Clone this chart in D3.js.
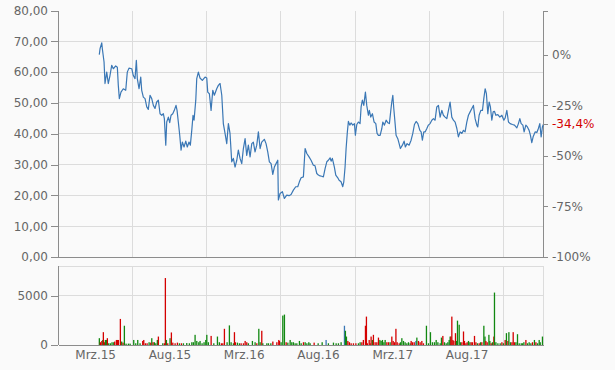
<!DOCTYPE html>
<html><head><meta charset="utf-8">
<script src="https://cdn.jsdelivr.net/npm/d3@7"></script>
<style>
html,body{margin:0;padding:0;background:#fafafa;}
svg{display:block;font-family:"DejaVu Sans",Verdana,sans-serif;}
</style></head>
<body><svg id="c" width="615" height="370"></svg>
<script>
// ---- data ----
const xLabels = ["Mrz.15","Aug.15","Mrz.16","Aug.16","Mrz.17","Aug.17"];
const priceTicks = [0,10,20,30,40,50,60,70,80];
const pctTicks = [0,-0.25,-0.5,-0.75,-1];
const volTicks = [0,5000];
const basePrice = 65.7;

const priceT = [0.556,0.566,0.589,0.597,0.620,0.633,0.656,0.677,0.700,0.723,0.745,0.777,0.799,0.812,0.826,0.848,0.879,0.912,0.933,0.956,0.993,1.014,1.037,1.055,1.068,1.091,1.114,1.127,1.149,1.172,1.195,1.216,1.239,1.262,1.284,1.306,1.329,1.351,1.374,1.397,1.418,1.432,1.451,1.464,1.486,1.504,1.522,1.545,1.566,1.589,1.603,1.620,1.639,1.657,1.674,1.697,1.720,1.741,1.764,1.782,1.801,1.818,1.832,1.855,1.868,1.890,1.912,1.943,1.980,2.003,2.016,2.038,2.061,2.084,2.105,2.137,2.159,2.182,2.205,2.226,2.249,2.272,2.294,2.316,2.339,2.361,2.384,2.407,2.428,2.451,2.474,2.496,2.519,2.541,2.563,2.586,2.609,2.630,2.653,2.676,2.698,2.721,2.743,2.778,2.801,2.824,2.846,2.869,2.892,2.913,2.936,2.959,2.967,2.990,3.021,3.048,3.080,3.111,3.138,3.169,3.201,3.228,3.250,3.273,3.304,3.327,3.350,3.380,3.407,3.438,3.461,3.484,3.506,3.529,3.551,3.573,3.596,3.619,3.640,3.663,3.677,3.694,3.721,3.740,3.767,3.785,3.811,3.834,3.848,3.865,3.879,3.896,3.910,3.929,3.946,3.969,3.991,4.004,4.023,4.044,4.067,4.081,4.098,4.117,4.139,4.157,4.179,4.192,4.211,4.233,4.256,4.279,4.296,4.314,4.337,4.360,4.373,4.395,4.418,4.440,4.462,4.481,4.494,4.508,4.521,4.539,4.552,4.575,4.593,4.610,4.637,4.660,4.677,4.700,4.727,4.754,4.777,4.799,4.822,4.845,4.872,4.889,4.906,4.925,4.943,4.966,4.987,5.010,5.033,5.055,5.077,5.100,5.122,5.145,5.168,5.189,5.212,5.235,5.257,5.279,5.302,5.324,5.347,5.370,5.391,5.414,5.437,5.459,5.481,5.504,5.526,5.549,5.572,5.593,5.616,5.639,5.652,5.670,5.693,5.715,5.733,5.751,5.768,5.787,5.805,5.822,5.841,5.859,5.876,5.895,5.922,5.949,5.976,6.003,6.020,6.043,6.065,6.088,6.119,6.146,6.178,6.199,6.218,6.236,6.259,6.276,6.299,6.320,6.343,6.361,6.379,6.397,6.424,6.447,6.468,6.487,6.505,6.522,6.536];
const priceV = [65.7,67.6,69.5,67.6,63.3,56.3,60.0,56.3,58.9,62.2,61.1,62.0,61.6,55.7,51.4,53.5,54.6,54.1,60.0,61.3,61.1,58.9,57.9,63.8,57.9,54.6,58.4,54.1,51.9,51.4,48.7,47.9,52.5,51.4,49.2,48.2,50.3,50.9,46.5,46.0,46.5,44.9,36.3,43.8,45.4,43.6,46.0,46.5,47.6,49.2,47.6,43.8,39.5,34.7,37.3,35.7,37.6,35.7,37.3,36.3,41.1,46.0,44.4,50.9,57.9,60.0,58.1,57.3,58.4,58.1,53.5,53.0,47.6,54.1,52.5,54.6,55.7,56.3,52.5,43.3,40.1,36.8,43.3,40.1,30.9,32.0,29.2,31.4,34.7,32.0,30.3,35.2,38.4,33.0,36.3,32.5,36.8,37.3,34.1,36.3,40.6,35.2,37.3,38.2,36.8,34.1,30.9,30.3,26.8,29.2,30.3,31.4,18.5,20.6,21.2,19.0,20.1,19.9,20.3,21.7,22.8,22.8,24.4,25.7,26.0,35.2,33.6,32.5,31.4,29.8,29.6,27.1,26.6,26.3,26.2,26.0,28.7,30.9,31.4,32.2,31.1,32.0,29.2,26.6,25.7,24.9,24.4,22.8,24.4,29.2,35.2,40.6,44.0,42.8,43.5,42.8,43.3,39.5,43.0,43.8,43.3,48.7,50.9,49.2,53.5,49.2,46.0,47.6,45.4,46.5,43.8,43.3,40.1,39.5,39.5,41.7,43.8,42.8,44.4,43.6,43.3,47.6,50.3,52.5,48.2,43.3,39.5,38.4,36.8,35.2,36.3,37.6,35.7,36.8,36.3,37.9,40.1,43.0,44.0,43.3,41.1,40.6,37.9,40.6,40.6,41.7,42.8,43.3,44.4,44.9,44.4,48.7,49.2,45.4,47.6,46.0,45.4,44.9,47.6,50.3,45.4,44.4,43.8,41.7,39.0,40.6,40.1,41.1,40.6,43.8,46.0,47.1,48.2,49.2,44.9,42.8,42.2,46.0,47.6,47.6,51.4,54.6,53.0,46.5,50.3,48.7,44.4,47.1,47.3,46.0,46.2,45.4,46.0,44.4,45.1,47.6,43.8,43.3,43.0,42.8,41.9,43.3,44.9,43.3,42.8,40.6,42.8,42.2,41.1,39.5,37.1,39.0,40.6,40.4,41.7,43.3,39.0,42.2,43.1];

const volT = [0.556,0.570,0.589,0.602,0.610,0.624,0.637,0.651,0.664,0.682,0.705,0.727,0.750,0.763,0.786,0.799,0.812,0.839,0.857,0.875,0.893,0.916,0.947,0.970,1.019,1.046,1.073,1.104,1.140,1.154,1.176,1.199,1.226,1.248,1.262,1.279,1.297,1.316,1.337,1.351,1.410,1.432,1.445,1.459,1.477,1.508,1.526,1.545,1.576,1.607,1.634,1.661,1.688,1.733,1.768,1.801,1.822,1.845,1.868,1.895,1.912,1.939,1.966,1.989,2.003,2.024,2.061,2.097,2.146,2.172,2.199,2.218,2.240,2.276,2.307,2.330,2.361,2.375,2.388,2.415,2.442,2.465,2.496,2.519,2.541,2.563,2.617,2.653,2.676,2.703,2.721,2.743,2.757,2.811,2.833,2.865,2.892,2.946,2.972,2.981,3.003,3.026,3.048,3.071,3.094,3.125,3.147,3.169,3.192,3.215,3.250,3.273,3.304,3.327,3.350,3.376,3.394,3.448,3.502,3.556,3.609,3.640,3.708,3.744,3.775,3.811,3.856,3.869,3.883,3.902,3.923,3.946,3.977,4.010,4.044,4.067,4.090,4.111,4.139,4.152,4.165,4.189,4.202,4.215,4.233,4.246,4.269,4.292,4.314,4.333,4.350,4.368,4.387,4.404,4.427,4.449,4.471,4.494,4.512,4.530,4.549,4.566,4.593,4.610,4.629,4.651,4.673,4.696,4.718,4.741,4.754,4.772,4.795,4.818,4.831,4.853,4.875,4.898,4.920,4.960,4.987,5.014,5.041,5.068,5.091,5.114,5.145,5.162,5.181,5.203,5.226,5.248,5.266,5.279,5.289,5.302,5.316,5.329,5.351,5.364,5.378,5.401,5.418,5.437,5.459,5.472,5.491,5.508,5.526,5.545,5.562,5.580,5.607,5.626,5.647,5.670,5.688,5.706,5.733,5.748,5.760,5.778,5.801,5.814,5.832,5.849,5.868,5.876,5.895,5.922,5.953,5.976,5.997,6.020,6.037,6.057,6.070,6.091,6.111,6.128,6.146,6.165,6.186,6.209,6.236,6.253,6.272,6.299,6.320,6.343,6.366,6.388,6.414,6.434,6.456,6.478,6.492,6.522];
const volV = [690,280,410,510,1300,280,510,510,690,175,175,280,280,350,510,510,510,2640,350,240,1950,140,140,140,510,175,510,175,410,510,175,175,280,240,690,280,280,175,510,855,175,175,6780,510,175,690,1270,240,175,240,175,175,175,200,175,280,280,1030,410,280,410,175,280,510,1030,280,920,175,855,280,175,175,1640,280,1985,280,175,1300,280,240,175,175,175,410,280,175,410,280,175,1640,280,1440,175,175,175,175,350,280,510,410,280,2980,3080,280,240,510,280,280,175,175,410,175,280,280,175,280,175,240,175,280,510,175,240,175,175,280,1950,1440,855,410,280,175,175,175,175,280,280,510,1950,2876,175,510,175,855,510,1030,280,280,750,510,410,510,280,510,280,280,280,855,410,280,1640,280,175,280,690,410,280,175,280,175,410,280,280,410,750,410,280,410,175,1950,175,1300,280,280,510,280,175,750,920,280,175,280,510,855,855,2876,510,410,1200,410,2465,2054,280,280,1370,410,175,280,410,280,280,280,920,280,175,175,280,280,1950,855,410,280,1030,410,175,280,855,5310,280,175,175,280,175,510,1200,410,1300,280,280,1300,280,280,1095,175,175,175,280,510,175,280,175,280,510,280,175,510,280,855];
// 1 = up (green), -1 = down (red), 0 = unchanged (blue)
const volDir = [1,-1,-1,1,-1,-1,1,1,-1,1,1,1,1,-1,-1,-1,-1,-1,1,-1,1,1,1,1,1,1,1,1,-1,-1,-1,-1,1,-1,1,-1,1,1,1,-1,1,-1,-1,1,-1,1,-1,-1,-1,-1,1,-1,1,1,1,1,1,1,1,1,1,1,1,1,1,1,-1,1,1,1,-1,-1,-1,1,1,1,1,-1,-1,1,1,-1,-1,-1,-1,1,1,1,-1,1,1,-1,1,1,1,1,-1,-1,-1,-1,1,1,1,-1,1,1,1,1,1,1,1,1,-1,1,1,1,1,-1,1,1,0,1,1,1,1,1,0,1,1,-1,-1,-1,-1,-1,1,1,-1,-1,-1,-1,-1,-1,-1,-1,1,-1,-1,-1,-1,1,1,1,1,1,-1,-1,1,-1,-1,-1,-1,-1,-1,1,1,1,1,1,1,1,-1,-1,-1,0,1,-1,-1,-1,-1,1,1,1,1,1,1,1,1,1,-1,1,1,1,1,1,-1,-1,-1,-1,-1,1,1,1,1,-1,-1,-1,-1,-1,1,1,-1,-1,-1,-1,1,-1,1,-1,1,1,-1,-1,1,1,-1,1,-1,1,1,1,1,-1,1,-1,1,-1,1,1,-1,-1,-1,1,1,1,1,1,1,-1,1,1,1,-1,1,-1,1,1,1,1];

// ---- layout ----
const svg = d3.select("#c");
const L = 58, R = 543;
const mainTop = 10.5, mainBot = 257;
const volTop = 266, volBot = 345;
const gridC = "#dcdcdc", axisC = "#8c8c8c", textC = "#666";

const x = d3.scaleLinear().domain([0, 6.53]).range([L, R]);
const y = d3.scaleLinear().domain([0, 80]).range([mainBot, mainTop]);
const yPct = d3.scaleLinear().domain([-1, 80 / basePrice - 1]).range([mainBot, mainTop]);
const yVol = d3.scaleLinear().domain([0, 8000]).range([volBot, volTop]);
const gridX = d3.range(1, 7);

// main grid
const g = svg.append("g");
g.selectAll(".hg").data(priceTicks.filter(d => d > 0 && d < 80)).enter().append("line")
  .attr("x1", L).attr("x2", R).attr("y1", d => y(d)).attr("y2", d => y(d))
  .attr("stroke", gridC).attr("stroke-width", 1).attr("shape-rendering", "crispEdges");
g.selectAll(".vg").data(gridX).enter().append("line")
  .attr("x1", d => x(d)).attr("x2", d => x(d)).attr("y1", mainTop).attr("y2", mainBot)
  .attr("stroke", gridC).attr("shape-rendering", "crispEdges");

// volume grid & frame
g.selectAll(".vvg").data(gridX).enter().append("line")
  .attr("x1", d => x(d)).attr("x2", d => x(d)).attr("y1", volTop).attr("y2", volBot)
  .attr("stroke", gridC).attr("shape-rendering", "crispEdges");
g.selectAll(".vhg").data(volTicks.filter(d => d > 0)).enter().append("line")
  .attr("x1", L).attr("x2", R).attr("y1", d => yVol(d)).attr("y2", d => yVol(d))
  .attr("stroke", gridC).attr("shape-rendering", "crispEdges");
g.append("line").attr("x1", L).attr("x2", R).attr("y1", volTop).attr("y2", volTop)
  .attr("stroke", gridC).attr("shape-rendering", "crispEdges");
g.append("line").attr("x1", R).attr("x2", R).attr("y1", volTop).attr("y2", volBot)
  .attr("stroke", gridC).attr("shape-rendering", "crispEdges");

// axes
function styleAxis(sel) {
  sel.selectAll("path").attr("stroke", axisC).attr("shape-rendering", "crispEdges");
  sel.selectAll("line").attr("stroke", axisC).attr("shape-rendering", "crispEdges");
  sel.selectAll("text").attr("fill", textC).style("font-size", "12px")
    .style("font-family", '"DejaVu Sans",Verdana,sans-serif');
}
const fmt2 = d => d3.format(".2f")(d).replace(".", ",");
const yAxisL = svg.append("g").attr("transform", `translate(${L},0)`)
  .call(d3.axisLeft(y).tickValues(priceTicks).tickFormat(fmt2).tickSizeOuter(0).tickSize(7).tickPadding(3));
styleAxis(yAxisL);
const yAxisR = svg.append("g").attr("transform", `translate(${R},0)`)
  .call(d3.axisRight(yPct).tickValues(pctTicks).tickFormat(d => Math.round(d * 100) + "%").tickSizeOuter(0).tickSize(5).tickPadding(4));
styleAxis(yAxisR);
svg.append("line").attr("x1", L).attr("x2", R).attr("y1", mainBot).attr("y2", mainBot)
  .attr("stroke", axisC).attr("shape-rendering", "crispEdges");

const vAxis = svg.append("g").attr("transform", `translate(${L},0)`)
  .call(d3.axisLeft(yVol).tickValues(volTicks).tickFormat(d3.format("d")).tickSizeOuter(0).tickSize(7).tickPadding(3));
styleAxis(vAxis);
vAxis.select("path").attr("d", `M0,${volTop}V${volBot}`);
const xAxis = svg.append("g").attr("transform", `translate(0,${volBot})`)
  .call(d3.axisBottom(x).tickValues(xLabels.map((d, i) => i + 0.5)).tickFormat((d, i) => xLabels[i]).tickSize(0).tickSizeOuter(0).tickPadding(5));
styleAxis(xAxis);

// volume bars
const volColor = d => d > 0 ? "#118811" : (d < 0 ? "#d40000" : "#3a77b5");
svg.append("g").selectAll("rect").data(volT).enter().append("rect")
  .attr("x", d => x(d) - 0.6).attr("width", 1.3)
  .attr("y", (d, i) => yVol(volV[i])).attr("height", (d, i) => volBot - yVol(volV[i]))
  .attr("fill", (d, i) => volColor(volDir[i]));

// price line
const pts = priceT.map((t, i) => [t, priceV[i]]);
svg.append("path").datum(pts)
  .attr("fill", "none").attr("stroke", "#3a77b5").attr("stroke-width", 1.2).attr("stroke-linejoin", "round")
  .attr("d", d3.line().x(d => x(d[0])).y(d => y(d[1])));

// last value marker on right axis
const last = priceV[priceV.length - 1];
const lastPct = last / basePrice - 1;
svg.append("line").attr("x1", R).attr("x2", R + 5).attr("y1", y(last)).attr("y2", y(last))
  .attr("stroke", axisC).attr("shape-rendering", "crispEdges");
svg.append("text").attr("x", R + 9).attr("y", y(last)).attr("dy", "0.32em")
  .attr("fill", "#d40000").style("font-size", "12px")
  .text((lastPct * 100).toFixed(1).replace(".", ",") + "%");
</script></body></html>
